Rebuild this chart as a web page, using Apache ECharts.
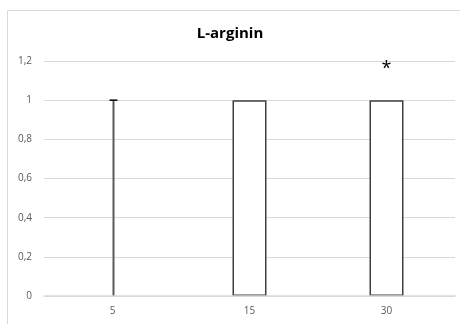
<!DOCTYPE html>
<html><head><meta charset="utf-8">
<script src="https://cdn.jsdelivr.net/npm/echarts@6/dist/echarts.min.js"></script>
<style>html,body{margin:0;padding:0;background:#fff}#c{width:460px;height:324px}</style>
</head><body><div id="c"></div>
<script>
var categories = ['5', '15', '30'];
var means = [0, 1, 1];
var errors = [1, 0, 0];
var marks = ['', '', '*'];
var yTicks = [0, 0.2, 0.4, 0.6, 0.8, 1, 1.2];

var chart = echarts.init(document.getElementById('c'));
var font = '"Open Sans", "Liberation Sans", sans-serif';
chart.setOption({
  animation: false,
  title: {text: 'L-arginin', left: 'center', top: 21,
    textStyle: {fontFamily: font, fontSize: 15, fontWeight: 'bold', color: '#000'}},
  graphic: [{type: 'polyline', shape: {points: [[7.5, 330], [7.5, 10.5], [470, 10.5]]},
    style: {stroke: '#d9d9d9', lineWidth: 1, fill: null}}],
  grid: {left: 44, right: 5, top: 61, bottom: 28},
  xAxis: {type: 'category', data: categories, z: 5,
    axisLine: {show: true, lineStyle: {color: '#d9d9d9', width: 1.5}}, axisTick: {show: false},
    axisLabel: {color: '#595959', fontFamily: font, fontSize: 10, margin: 10}},
  yAxis: {type: 'value', min: 0, max: 1.2, interval: 0.2,
    axisLine: {show: false}, axisTick: {show: false},
    splitLine: {lineStyle: {color: '#d9d9d9'}},
    axisLabel: {color: '#595959', fontFamily: font, fontSize: 10, margin: 12,
      formatter: function (v) { return String(Math.round(v * 10) / 10).replace('.', ','); }}},
  series: [{
    type: 'bar', barWidth: 34,
    data: means.map(function (v) { return v === 0 ? '-' : v; }),
    itemStyle: {color: '#fff', borderColor: '#404040', borderWidth: 1.5},
    label: {show: true, position: 'top', distance: 22, fontSize: 18, color: '#000',
      fontFamily: font,
      formatter: function (p) { return marks[p.dataIndex]; }}
  }, {
    type: 'custom',
    data: means.map(function (m, i) { return [i, m, m + errors[i]]; }),
    renderItem: function (params, api) {
      var i = api.value(0);
      if (api.value(2) === api.value(1)) return null;
      var p0 = api.coord([i, api.value(1)]);
      var p1 = api.coord([i, api.value(2)]);
      var x = Math.round(p0[0]) + 0.5;
      return {type: 'group', children: [
        {type: 'line', shape: {x1: x, y1: p0[1], x2: x, y2: p1[1]},
          style: {stroke: '#595959', lineWidth: 2}},
        {type: 'line', shape: {x1: x - 4, y1: p1[1], x2: x + 4, y2: p1[1]},
          style: {stroke: '#000', lineWidth: 1.5}}
      ]};
    },
    z: 3
  }]
});
</script></body></html>
